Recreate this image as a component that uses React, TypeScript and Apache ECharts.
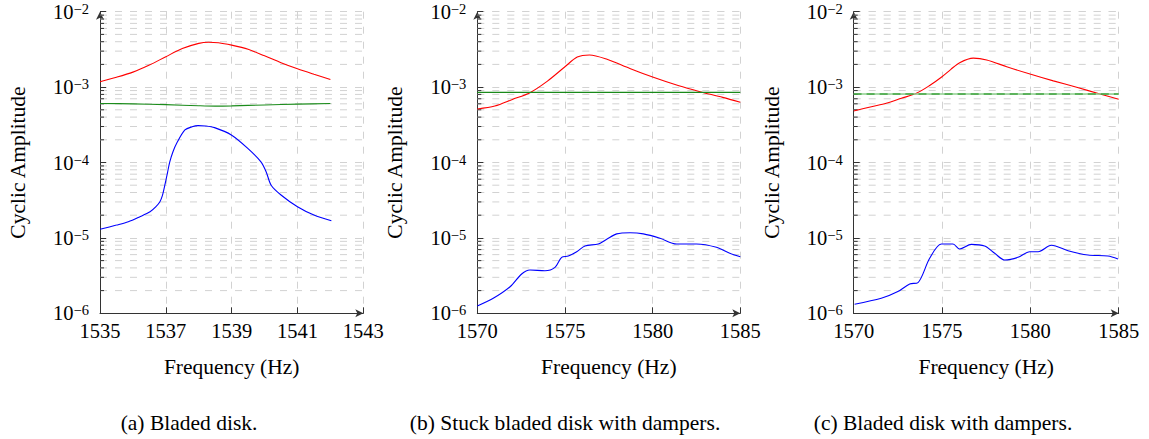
import React, { useEffect, useRef } from "react";
import * as echarts from "echarts";

const FONT = "'Liberation Serif', 'Times New Roman', Times, serif";

// ---------- Panel (a) Bladed disk ----------
const freqRedA = [1535, 1535.5, 1536, 1536.5, 1537, 1537.5, 1538, 1538.3, 1538.6, 1539, 1539.5, 1540, 1540.5, 1541, 1541.5, 1542];
const redA = [1.18e-3, 1.35e-3, 1.58e-3, 1.96e-3, 2.53e-3, 3.24e-3, 3.8e-3, 3.93e-3, 3.88e-3, 3.6e-3, 3.17e-3, 2.6e-3, 2.11e-3, 1.75e-3, 1.48e-3, 1.26e-3];
const freqGreenA = [1535, 1536, 1537, 1538, 1538.5, 1539, 1540, 1541, 1542];
const greenA = [6.05e-4, 6.0e-4, 5.85e-4, 5.66e-4, 5.6e-4, 5.64e-4, 5.8e-4, 5.95e-4, 6.05e-4];
const freqBlueA = [1535, 1535.5, 1535.86, 1536.2, 1536.52, 1536.7, 1536.82, 1536.9, 1536.97, 1537.05, 1537.12, 1537.22, 1537.33, 1537.58, 1537.8, 1537.98, 1538.2, 1538.48, 1538.99, 1539.49, 1539.89, 1540.05, 1540.2, 1540.5, 1541, 1541.5, 1542.03];
const blueA = [1.3e-5, 1.48e-5, 1.64e-5, 1.9e-5, 2.22e-5, 2.6e-5, 3.02e-5, 3.7e-5, 5.0e-5, 7.3e-5, 1.02e-4, 1.4e-4, 1.8e-4, 2.7e-4, 2.98e-4, 3.08e-4, 3.05e-4, 2.9e-4, 2.32e-4, 1.54e-4, 1.02e-4, 7.5e-5, 5.0e-5, 3.71e-5, 2.59e-5, 2.01e-5, 1.69e-5];

// ---------- Panel (b) Stuck bladed disk with dampers ----------
const freqRedB = [1570, 1571, 1572, 1573, 1574, 1575, 1575.7, 1576.4, 1577.4, 1578.7, 1580, 1581.5, 1582.7, 1584, 1585];
const redB = [5.13e-4, 5.6e-4, 6.85e-4, 8.43e-4, 1.2e-3, 1.86e-3, 2.5e-3, 2.67e-3, 2.34e-3, 1.77e-3, 1.36e-3, 1.04e-3, 8.7e-4, 7.3e-4, 6.28e-4];
const freqGreenB = [1570, 1585];
const greenB = [8.5e-4, 8.5e-4];
const freqBlueB = [1570, 1570.91, 1571.87, 1572.53, 1573.0, 1573.86, 1574.43, 1574.81, 1575.19, 1575.67, 1576.14, 1576.9, 1577.38, 1577.95, 1578.71, 1579.47, 1580.42, 1581.37, 1582.5, 1583.64, 1584.4, 1585];
const blueB = [1.25e-6, 1.58e-6, 2.25e-6, 3.32e-6, 3.75e-6, 3.67e-6, 4.07e-6, 5.53e-6, 5.75e-6, 6.56e-6, 7.81e-6, 8.3e-6, 9.58e-6, 1.13e-5, 1.17e-5, 1.13e-5, 9.88e-6, 8.3e-6, 8.3e-6, 7.5e-6, 6.25e-6, 5.63e-6];

// ---------- Panel (c) Bladed disk with dampers ----------
const freqRedC = [1570, 1571, 1571.84, 1572.7, 1573.55, 1574.3, 1574.96, 1575.5, 1576.0, 1576.77, 1577.53, 1578.66, 1579.98, 1581.3, 1582.62, 1583.94, 1585];
const redC = [4.82e-4, 5.5e-4, 6.1e-4, 7.1e-4, 8.27e-4, 1.05e-3, 1.35e-3, 1.72e-3, 2.11e-3, 2.42e-3, 2.29e-3, 1.86e-3, 1.49e-3, 1.21e-3, 9.95e-4, 8.1e-4, 6.9e-4];
const freqGreenC = [1570, 1585];
const greenC = [8.1e-4, 8.1e-4];
const freqBlueC = [1570.05, 1571.56, 1572.5, 1573.17, 1573.64, 1574.3, 1574.96, 1575.62, 1576.0, 1576.66, 1577.41, 1577.98, 1578.55, 1579.3, 1579.97, 1580.44, 1581.19, 1582.13, 1583.26, 1584.39, 1584.96];
const blueC = [1.32e-6, 1.58e-6, 1.94e-6, 2.45e-6, 2.55e-6, 5.36e-6, 8.3e-6, 8.3e-6, 7.13e-6, 8.2e-6, 7.8e-6, 6.25e-6, 5.09e-6, 5.53e-6, 6.56e-6, 6.56e-6, 7.98e-6, 6.76e-6, 5.93e-6, 5.75e-6, 5.25e-6];

// ---------- Axes / text ----------
const xRanges = [[1535, 1543, 2], [1570, 1585, 5], [1570, 1585, 5]];
const yMin = 1e-6;
const yMax = 1e-2;
const decadeExponents = [-6, -5, -4, -3];
const minorMultipliers = [2, 3, 4, 5, 6, 7, 8, 9];
const yTitle = "Cyclic Amplitude";
const xTitle = "Frequency (Hz)";
const captions = ["(a) Bladed disk.", "(b) Stuck bladed disk with dampers.", "(c) Bladed disk with dampers."];

const GRID_COLOR = "#d2d2d2";
const AXIS_COLOR = "#333333";
const DASH = [7, 8];
const TITLE_SIZE = 21.5;
const TICK_SIZE = 20.5;

const zip = (xs: number[], ys: number[]) => xs.map((x, i) => [x, ys[i]]);

export default function App() {
  const ref = useRef<HTMLDivElement>(null);
  useEffect(() => {
    if (!ref.current) return;
    const chart = echarts.init(ref.current, undefined, { renderer: "svg" });

    const grids = [
      { left: 100, top: 11.7, width: 263.3, height: 301.6 },
      { left: 477.3, top: 11.7, width: 263, height: 301.6 },
      { left: 853.7, top: 11.7, width: 265, height: 301.6 },
    ];

    const minorValues: number[] = [];
    decadeExponents.forEach((e) => minorMultipliers.forEach((m) => minorValues.push(m * Math.pow(10, e))));

    const xAxes = xRanges.map((r, i) => ({
      type: "value",
      gridIndex: i,
      min: r[0],
      max: r[1],
      interval: r[2],
      name: xTitle,
      nameLocation: "middle",
      nameGap: 43,
      nameTextStyle: { fontFamily: FONT, fontSize: TITLE_SIZE, color: "#000" },
      axisLine: { show: true, symbol: ["none", "arrow"], symbolSize: [6, 8], lineStyle: { color: AXIS_COLOR, width: 1 } },
      axisTick: { show: true, inside: true, length: 6, lineStyle: { color: AXIS_COLOR } },
      axisLabel: { fontFamily: FONT, fontSize: TICK_SIZE, color: "#000", margin: 7, formatter: (v: number) => String(v) },
      splitLine: { show: true, lineStyle: { color: GRID_COLOR, type: DASH, width: 1 } },
    }));

    const yAxes = xRanges.map((_, i) => ({
      type: "log",
      logBase: 10,
      gridIndex: i,
      min: yMin,
      max: yMax,
      name: yTitle,
      nameLocation: "middle",
      nameGap: 71,
      nameRotate: 90,
      nameTextStyle: { fontFamily: FONT, fontSize: TITLE_SIZE, color: "#000" },
      axisLine: { show: true, symbol: ["none", "arrow"], symbolSize: [6, 8], lineStyle: { color: AXIS_COLOR, width: 1 } },
      axisTick: { show: true, inside: true, length: 6, lineStyle: { color: AXIS_COLOR } },
      axisLabel: {
        margin: 11,
        fontFamily: FONT,
        formatter: (v: number) => `{a|10}{b|−${Math.round(-Math.log10(v))}}`,
        rich: {
          a: { fontFamily: FONT, fontSize: TICK_SIZE, color: "#000", lineHeight: 21 },
          b: { fontFamily: FONT, fontSize: 14.5, color: "#000", verticalAlign: "top", lineHeight: 14 },
        },
      },
      splitLine: { show: true, lineStyle: { color: GRID_COLOR, type: DASH, width: 1 } },
    }));

    const gridSeries = xRanges.map((r, i) => ({
      type: "custom",
      xAxisIndex: i,
      yAxisIndex: i,
      silent: true,
      z: 1,
      clip: false,
      data: minorValues.map((v) => [r[0], v]),
      renderItem: (_p: any, api: any) => {
        const v = api.value(1);
        const p0 = api.coord([r[0], v]);
        const p1 = api.coord([r[1], v]);
        return {
          type: "group",
          children: [
            { type: "line", shape: { x1: p0[0], y1: p0[1], x2: p1[0], y2: p1[1] }, style: { stroke: GRID_COLOR, lineWidth: 1, lineDash: DASH } },
            { type: "line", shape: { x1: p0[0], y1: p0[1], x2: p0[0] + 4, y2: p0[1] }, style: { stroke: AXIS_COLOR, lineWidth: 1 } },
          ],
        };
      },
    }));

    const line = (idx: number, data: number[][], color: string, extra: any = {}) => ({
      type: "line",
      xAxisIndex: idx,
      yAxisIndex: idx,
      data,
      showSymbol: false,
      symbol: "none",
      smooth: 0.3,
      z: 3,
      lineStyle: { color, width: 1.1, ...(extra.lineStyle || {}) },
    });

    const option: any = {
      animation: false,
      textStyle: { fontFamily: FONT },
      grid: grids,
      xAxis: xAxes,
      yAxis: yAxes,
      series: [
        ...gridSeries,
        line(0, zip(freqRedA, redA), "#ff0000"),
        line(0, zip(freqGreenA, greenA), "#1c8c1c"),
        line(0, zip(freqBlueA, blueA), "#0000ff"),
        line(1, zip(freqRedB, redB), "#ff0000"),
        line(1, zip(freqGreenB, greenB), "#1a8a1a"),
        line(1, zip(freqBlueB, blueB), "#0000ff"),
        line(2, zip(freqRedC, redC), "#ff0000"),
        line(2, zip(freqGreenC, greenC), "#8fd08f", { lineStyle: { width: 1.6 } }),
        line(2, zip(freqGreenC, greenC), "#118a11", { lineStyle: { type: [8, 5] } }),
        line(2, zip(freqBlueC, blueC), "#0000ff"),
      ],
      graphic: captions.map((c, i) => ({
        type: "text",
        x: [189, 565, 943][i],
        y: 423,
        style: { text: c, fontFamily: FONT, fontSize: TITLE_SIZE, fill: "#000", textAlign: "center", textVerticalAlign: "middle" },
      })),
    };
    chart.setOption(option);
    return () => chart.dispose();
  }, []);
  return <div ref={ref} style={{ position: "absolute", left: 0, top: 0, width: 1149, height: 439, background: "#fff" }} />;
}
